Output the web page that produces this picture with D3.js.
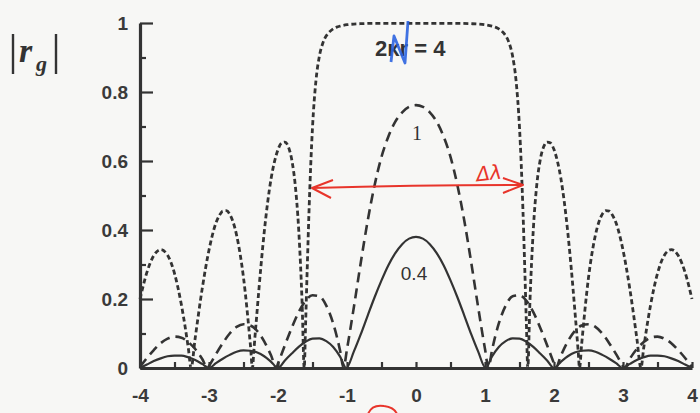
<!DOCTYPE html>
<html>
<head>
<meta charset="utf-8">
<script src="https://cdn.jsdelivr.net/npm/d3@7"></script>
<style>
  body { margin: 0; background: #f7f7f5; }
  svg { display: block; }
  .tick text { font-family: "Liberation Sans", Arial, sans-serif; font-weight: bold; fill: #3a3a3a; }
</style>
</head>
<body>
<div class="box"></div>
<script>
// Data: |r_g| against normalized detuning
// kappa*L = 0.4 (solid)
const solidX = [-4,-3.9,-3.8,-3.7,-3.6,-3.5,-3.4,-3.3,-3.2,-3.1,-3,-2.9,-2.8,-2.7,-2.6,-2.5,-2.4,-2.3,-2.2,-2.1,-2,-1.9,-1.8,-1.7,-1.6,-1.5,-1.4,-1.3,-1.2,-1.1,-1.01,-0.9,-0.8,-0.7,-0.6,-0.5,-0.4,-0.3,-0.2,-0.1,0,
  0.1,0.2,0.3,0.4,0.5,0.6,0.7,0.8,0.9,1.01,1.1,1.2,1.3,1.4,1.5,1.6,1.7,1.8,1.9,2,2.1,2.2,2.3,2.4,2.5,2.6,2.7,2.8,2.9,3,3.1,3.2,3.3,3.4,3.5,3.6,3.7,3.8,3.9,4];
const solidY = [0,0.010,0.020,0.028,0.034,0.036,0.036,0.031,0.023,0.012,0,0.014,0.027,0.038,0.047,0.051,0.050,0.045,0.034,0.018,0,0.022,0.042,0.061,0.076,0.085,0.086,0.078,0.061,0.033,0,0.048,0.098,0.152,0.205,0.254,0.298,0.333,0.359,0.375,0.380,
  0.375,0.359,0.333,0.298,0.254,0.205,0.152,0.098,0.048,0,0.033,0.061,0.078,0.086,0.085,0.076,0.061,0.042,0.022,0,0.018,0.034,0.045,0.050,0.051,0.047,0.038,0.027,0.014,0,0.012,0.023,0.031,0.036,0.036,0.034,0.028,0.020,0.010,0];

// kappa*L = 1 (long dash)
const longX = [-4,-3.9,-3.8,-3.7,-3.6,-3.5,-3.4,-3.3,-3.2,-3.1,-3.02,-3,-2.9,-2.8,-2.7,-2.6,-2.5,-2.4,-2.3,-2.2,-2.1,-2.025,-2,-1.9,-1.8,-1.7,-1.6,-1.5,-1.4,-1.3,-1.2,-1.1,-1.05,-1,-0.9,-0.8,-0.7,-0.6,-0.5,-0.4,-0.3,-0.2,-0.1,0,
  0.1,0.2,0.3,0.4,0.5,0.6,0.7,0.8,0.9,1,1.05,1.1,1.2,1.3,1.4,1.5,1.6,1.7,1.8,1.9,2,2.025,2.1,2.2,2.3,2.4,2.5,2.6,2.7,2.8,2.9,3,3.02,3.1,3.2,3.3,3.4,3.5,3.6,3.7,3.8,3.9,4];
const longY = [0.003,0.029,0.052,0.072,0.085,0.091,0.088,0.075,0.055,0.027,0,0.006,0.040,0.072,0.100,0.119,0.127,0.123,0.107,0.077,0.036,0,0.013,0.066,0.117,0.162,0.195,0.211,0.208,0.181,0.129,0.050,0,0.055,0.177,0.306,0.427,0.530,0.612,0.671,0.714,0.741,0.757,0.762,
  0.757,0.741,0.714,0.671,0.612,0.530,0.427,0.306,0.177,0.055,0,0.050,0.129,0.181,0.208,0.211,0.195,0.162,0.117,0.066,0.013,0,0.036,0.077,0.107,0.123,0.127,0.119,0.100,0.072,0.040,0.006,0,0.027,0.055,0.075,0.088,0.091,0.085,0.072,0.052,0.029,0.003];

// kappa*L = 4 (short dash)
const shortX = [-4,-3.9,-3.8,-3.7,-3.6,-3.5,-3.4,-3.3,-3.26,-3.2,-3.1,-3,-2.9,-2.85,-2.8,-2.75,-2.7,-2.6,-2.5,-2.4,-2.37,-2.35,-2.3,-2.25,-2.2,-2.15,-2.1,-2.05,-2,-1.95,-1.9,-1.85,-1.8,-1.75,-1.7,-1.65,-1.62,-1.6,-1.575,-1.55,-1.525,-1.5,-1.45,-1.4,-1.35,-1.3,-1.25,-1.2,-1.15,-1.1,-1,-0.9,-0.8,-0.6,-0.4,-0.2,0,
  0.2,0.4,0.6,0.8,0.9,1,1.1,1.15,1.2,1.25,1.3,1.35,1.4,1.45,1.5,1.525,1.55,1.575,1.6,1.62,1.65,1.7,1.75,1.8,1.85,1.9,1.95,2,2.05,2.1,2.15,2.2,2.25,2.3,2.35,2.37,2.4,2.5,2.6,2.7,2.75,2.8,2.85,2.9,3,3.1,3.2,3.26,3.3,3.4,3.5,3.6,3.7,3.8,3.9,4];
const shortY = [0.200,0.277,0.326,0.343,0.327,0.274,0.183,0.058,0,0.087,0.228,0.342,0.420,0.442,0.455,0.456,0.446,0.385,0.262,0.067,0,0.050,0.172,0.289,0.393,0.480,0.549,0.599,0.633,0.652,0.655,0.641,0.603,0.530,0.401,0.185,0,0.127,0.298,0.457,0.591,0.697,0.833,0.904,0.942,0.963,0.975,0.983,0.988,0.991,0.995,0.997,0.998,0.999,0.999,0.999,0.999,
  0.999,0.999,0.999,0.998,0.997,0.995,0.991,0.988,0.983,0.975,0.963,0.942,0.904,0.833,0.697,0.591,0.457,0.298,0.127,0,0.185,0.401,0.530,0.603,0.641,0.655,0.652,0.633,0.599,0.549,0.480,0.393,0.289,0.172,0.050,0,0.067,0.262,0.385,0.446,0.456,0.455,0.442,0.420,0.342,0.228,0.087,0,0.058,0.183,0.274,0.327,0.343,0.326,0.277,0.200];

const xTicks = [-4,-3,-2,-1,0,1,2,3,4];
const xMinor = [-3.5,-2.5,-1.5,-0.5,0.5,1.5,2.5,3.5];
const yTicks = [0,0.2,0.4,0.6,0.8,1];
const yMinor = [0.1,0.3,0.5,0.7,0.9];

const w = 700;
const h = 413;
const ink = "#333";

const svg = d3.select(".box")
    .append("svg")
    .attr("width", w)
    .attr("height", h);

const xScale = d3.scaleLinear().domain([-4, 4]).range([140, 692]);
const yScale = d3.scaleLinear().domain([0, 1]).range([368, 23]);

// CURVES
const line = d3.line()
    .x(d => xScale(d[0]))
    .y(d => yScale(d[1]))
    .curve(d3.curveMonotoneX);

const curves = [
    {xs: solidX, ys: solidY, dash: null, width: 2.2},
    {xs: longX, ys: longY, dash: "10,6", width: 2.6},
    {xs: shortX, ys: shortY, dash: "5,3", width: 2.8}
];

curves.forEach(c => {
    svg.append("path")
        .datum(c.xs.map((x, i) => [x, c.ys[i]]))
        .attr("d", line)
        .attr("fill", "none")
        .attr("stroke", ink)
        .attr("stroke-width", c.width)
        .attr("stroke-dasharray", c.dash);
});

// AXES
// plain hyphen for negatives, like the printed figure
const xAxis = d3.axisBottom(xScale)
    .tickValues(xTicks)
    .tickSizeInner(-6)
    .tickSizeOuter(0)
    .tickPadding(21)
    .tickFormat(d => String(d));

const gx = svg.append("g")
    .attr("transform", "translate(0," + yScale(0) + ")")
    .call(xAxis);
gx.selectAll("text").style("font-size", "19px");

svg.append("g")
    .attr("transform", "translate(0," + yScale(0) + ")")
    .call(d3.axisBottom(xScale).tickValues(xMinor).tickSizeInner(-6).tickSizeOuter(0).tickFormat(""))
    .select(".domain").remove();

const yAxis = d3.axisLeft(yScale)
    .tickValues(yTicks)
    .tickSizeInner(-13)
    .tickSizeOuter(0)
    .tickPadding(12)
    .tickFormat(d => String(d));

const gy = svg.append("g")
    .attr("transform", "translate(" + xScale(-4) + ",0)")
    .call(yAxis);
gy.selectAll("text").style("font-size", "19px");

svg.append("g")
    .attr("transform", "translate(" + xScale(-4) + ",0)")
    .call(d3.axisLeft(yScale).tickValues(yMinor).tickSizeInner(-6).tickSizeOuter(0).tickFormat(""))
    .select(".domain").remove();

svg.selectAll(".domain").attr("stroke", ink).attr("stroke-width", 3.2);
svg.selectAll(".tick line").attr("stroke", ink).attr("stroke-width", 2.2);

// Y AXIS NAME |r_g|
svg.append("line").attr("x1", 13).attr("x2", 13).attr("y1", 34).attr("y2", 74)
    .attr("stroke", ink).attr("stroke-width", 2.4);
svg.append("line").attr("x1", 56).attr("x2", 56).attr("y1", 34).attr("y2", 74)
    .attr("stroke", ink).attr("stroke-width", 2.4);
svg.append("text")
    .attr("x", 19).attr("y", 62)
    .style("font-family", "Liberation Serif, serif")
    .style("font-style", "italic").style("font-weight", "bold")
    .style("font-size", "34px").style("fill", ink)
    .text("r");
svg.append("text")
    .attr("x", 36).attr("y", 71)
    .style("font-family", "Liberation Serif, serif")
    .style("font-style", "italic").style("font-weight", "bold")
    .style("font-size", "22px").style("fill", ink)
    .text("g");

// CURVE LABELS
const labelStyle = sel => sel
    .style("font-family", "Liberation Sans, Arial, sans-serif")
    .style("font-weight", "bold")
    .style("fill", ink);

svg.append("text").attr("x", 375).attr("y", 56).style("font-size", "22px")
    .call(labelStyle).text("2κr = 4");
svg.append("text").attr("x", 417).attr("y", 140).attr("text-anchor", "middle")
    .style("font-size", "20px").call(labelStyle).style("font-weight", "normal")
    .style("font-family", "Liberation Serif, serif").text("1");
svg.append("text").attr("x", 414).attr("y", 280).attr("text-anchor", "middle")
    .style("font-size", "19px").call(labelStyle).style("font-weight", "normal").text("0.4");

// HANDWRITTEN MARKS
svg.append("path")
    .attr("d", "M391,62 L394,36 L405,63 L408,21")
    .attr("fill", "none").attr("stroke", "#2b63e0").attr("stroke-width", 2.8)
    .attr("stroke-linejoin", "round").attr("opacity", 0.9);

const red = "#e8352b";
svg.append("path")
    .attr("d", "M312,188 Q420,185 523,185")
    .attr("fill", "none").attr("stroke", red).attr("stroke-width", 2);
svg.append("path")
    .attr("d", "M333,180 L312,188 L331,198 M503,178 L523,185 L503,193")
    .attr("fill", "none").attr("stroke", red).attr("stroke-width", 2)
    .attr("stroke-linejoin", "round");
svg.append("text")
    .attr("x", 476).attr("y", 180)
    .attr("transform", "rotate(-6,488,172)")
    .style("font-family", "DejaVu Sans, sans-serif").style("font-style", "italic")
    .style("font-size", "20px").style("fill", red)
    .text("Δλ");
svg.append("path")
    .attr("d", "M368,414 Q372,404 384,406 Q394,407 397,414")
    .attr("fill", "none").attr("stroke", red).attr("stroke-width", 2);
</script>
</body>
</html>
